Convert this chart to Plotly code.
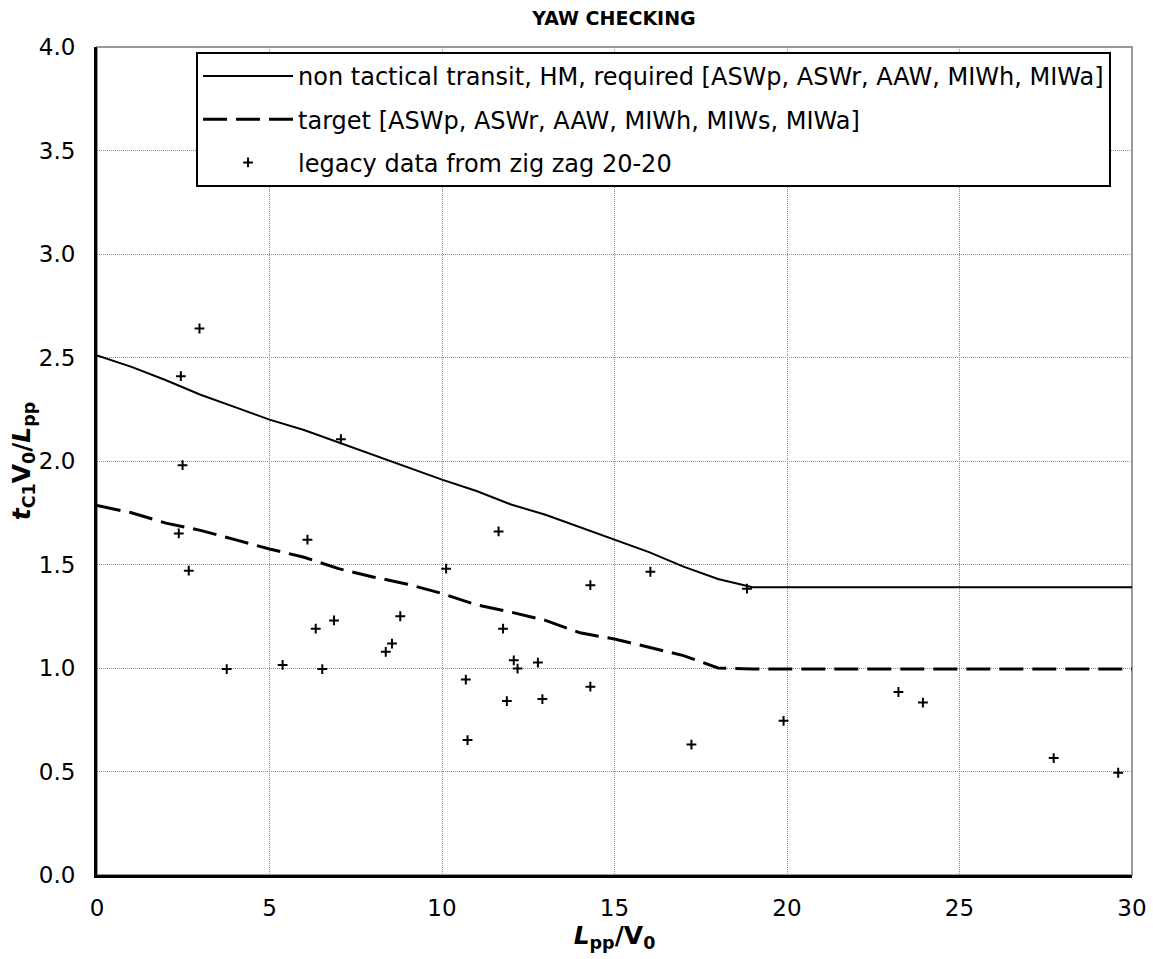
import plotly.graph_objects as go

# Required line (non tactical transit, HM)
req_x = list(range(0, 31))
req_y = [2.51, 2.455, 2.39, 2.32, 2.26, 2.20, 2.15, 2.09, 2.03, 1.97, 1.91,
         1.855, 1.79, 1.74, 1.68, 1.62, 1.56, 1.49, 1.43, 1.39, 1.39,
         1.39, 1.39, 1.39, 1.39, 1.39, 1.39, 1.39, 1.39, 1.39, 1.39]

# Target line
tgt_x = list(range(0, 31))
tgt_y = [1.785, 1.75, 1.70, 1.665, 1.62, 1.575, 1.535, 1.48, 1.44, 1.405, 1.36,
         1.305, 1.27, 1.23, 1.17, 1.14, 1.10, 1.06, 1.0, 0.995, 0.995,
         0.995, 0.995, 0.995, 0.995, 0.995, 0.995, 0.995, 0.995, 0.995, 0.995]

# Legacy data from zig zag 20-20
leg_x = [2.97, 2.43, 2.48, 7.07, 2.37, 6.10, 2.66, 10.12, 11.64, 8.79,
         14.30, 16.04, 18.84, 11.77, 12.08, 12.19, 12.78, 10.69, 14.30, 11.88,
         12.91, 10.74, 17.23, 19.90, 23.23, 23.94, 27.73, 29.60, 3.76, 5.38,
         6.53, 6.34, 6.87, 8.37, 8.55]
leg_y = [2.64, 2.41, 1.98, 2.105, 1.65, 1.62, 1.47, 1.48, 1.66, 1.25,
         1.40, 1.465, 1.383, 1.19, 1.037, 0.997, 1.026, 0.944, 0.91, 0.84,
         0.85, 0.652, 0.63, 0.745, 0.884, 0.833, 0.565, 0.494, 0.995, 1.015,
         0.995, 1.19, 1.23, 1.078, 1.118]

x_ticks = [0, 5, 10, 15, 20, 25, 30]
y_ticks = [0.0, 0.5, 1.0, 1.5, 2.0, 2.5, 3.0, 3.5, 4.0]

FONT = "DejaVu Sans"

fig = go.Figure()
fig.add_trace(go.Scatter(
    x=req_x, y=req_y, mode="lines", legendgroup="a",
    name="non tactical transit, HM, required [ASWp, ASWr, AAW, MIWh, MIWa]",
    line=dict(color="black", width=2)))
fig.add_trace(go.Scatter(
    x=tgt_x, y=tgt_y, mode="lines", legendgroup="b",
    name="target [ASWp, ASWr, AAW, MIWh, MIWs, MIWa]",
    line=dict(color="black", width=3, dash="24px,9px")))
fig.add_trace(go.Scatter(
    x=leg_x, y=leg_y, mode="markers", legendgroup="c",
    name="legacy data from zig zag 20-20",
    marker=dict(symbol="cross-thin", size=7, color="black",
                line=dict(color="black", width=2))))

fig.add_shape(type="rect", xref="paper", yref="paper", x0=0, x1=1, y0=0, y1=1,
              line=dict(color="#999999", width=2), layer="below")

fig.update_layout(
    width=1153, height=959,
    paper_bgcolor="white", plot_bgcolor="white",
    margin=dict(l=97, r=21, t=47, b=84, autoexpand=False),
    font=dict(family=FONT, size=23, color="black"),
    title=dict(text="<b>YAW CHECKING</b>", x=0.5325, xanchor="center",
               y=0.981, yanchor="middle", font=dict(family=FONT, size=19, color="black")),
    showlegend=True,
    legend=dict(x=0.0957, y=0.994, xanchor="left", yanchor="top",
                bgcolor="white", bordercolor="black", borderwidth=2,
                font=dict(family=FONT, size=24, color="black"),
                itemwidth=90, tracegroupgap=9, traceorder="grouped"),
)
fig.update_xaxes(range=[0, 30], tickvals=x_ticks, ticktext=[str(v) for v in x_ticks],
                 automargin=False,
                 showgrid=True, gridcolor="#8c8c8c", griddash="1px,1px", gridwidth=1,
                 showline=True, linecolor="black", linewidth=3, zeroline=False,
                 ticks="outside", ticklen=10, tickcolor="rgba(0,0,0,0)",
                 tickfont=dict(family=FONT, size=23),
                 title=dict(text="<b><i>L</i><sub>pp</sub>/V<sub>0</sub></b>",
                            font=dict(family=FONT, size=25), standoff=2))
fig.update_yaxes(range=[0, 4], tickvals=y_ticks, ticktext=[f"{v:.1f}" for v in y_ticks],
                 automargin=False,
                 showgrid=True, gridcolor="#8c8c8c", griddash="1px,1px", gridwidth=1,
                 showline=True, linecolor="black", linewidth=3, zeroline=False,
                 ticks="outside", ticklen=14, tickcolor="rgba(0,0,0,0)",
                 tickfont=dict(family=FONT, size=23),
                 title=dict(text="<b><i>t</i><sub>C1</sub>V<sub>0</sub>/<i>L</i><sub>pp</sub></b>",
                            font=dict(family=FONT, size=25), standoff=0))

fig.write_html("out.html", config={"displayModeBar": False},
               post_script="document.body.style.margin='0';document.body.style.overflow='hidden';")
